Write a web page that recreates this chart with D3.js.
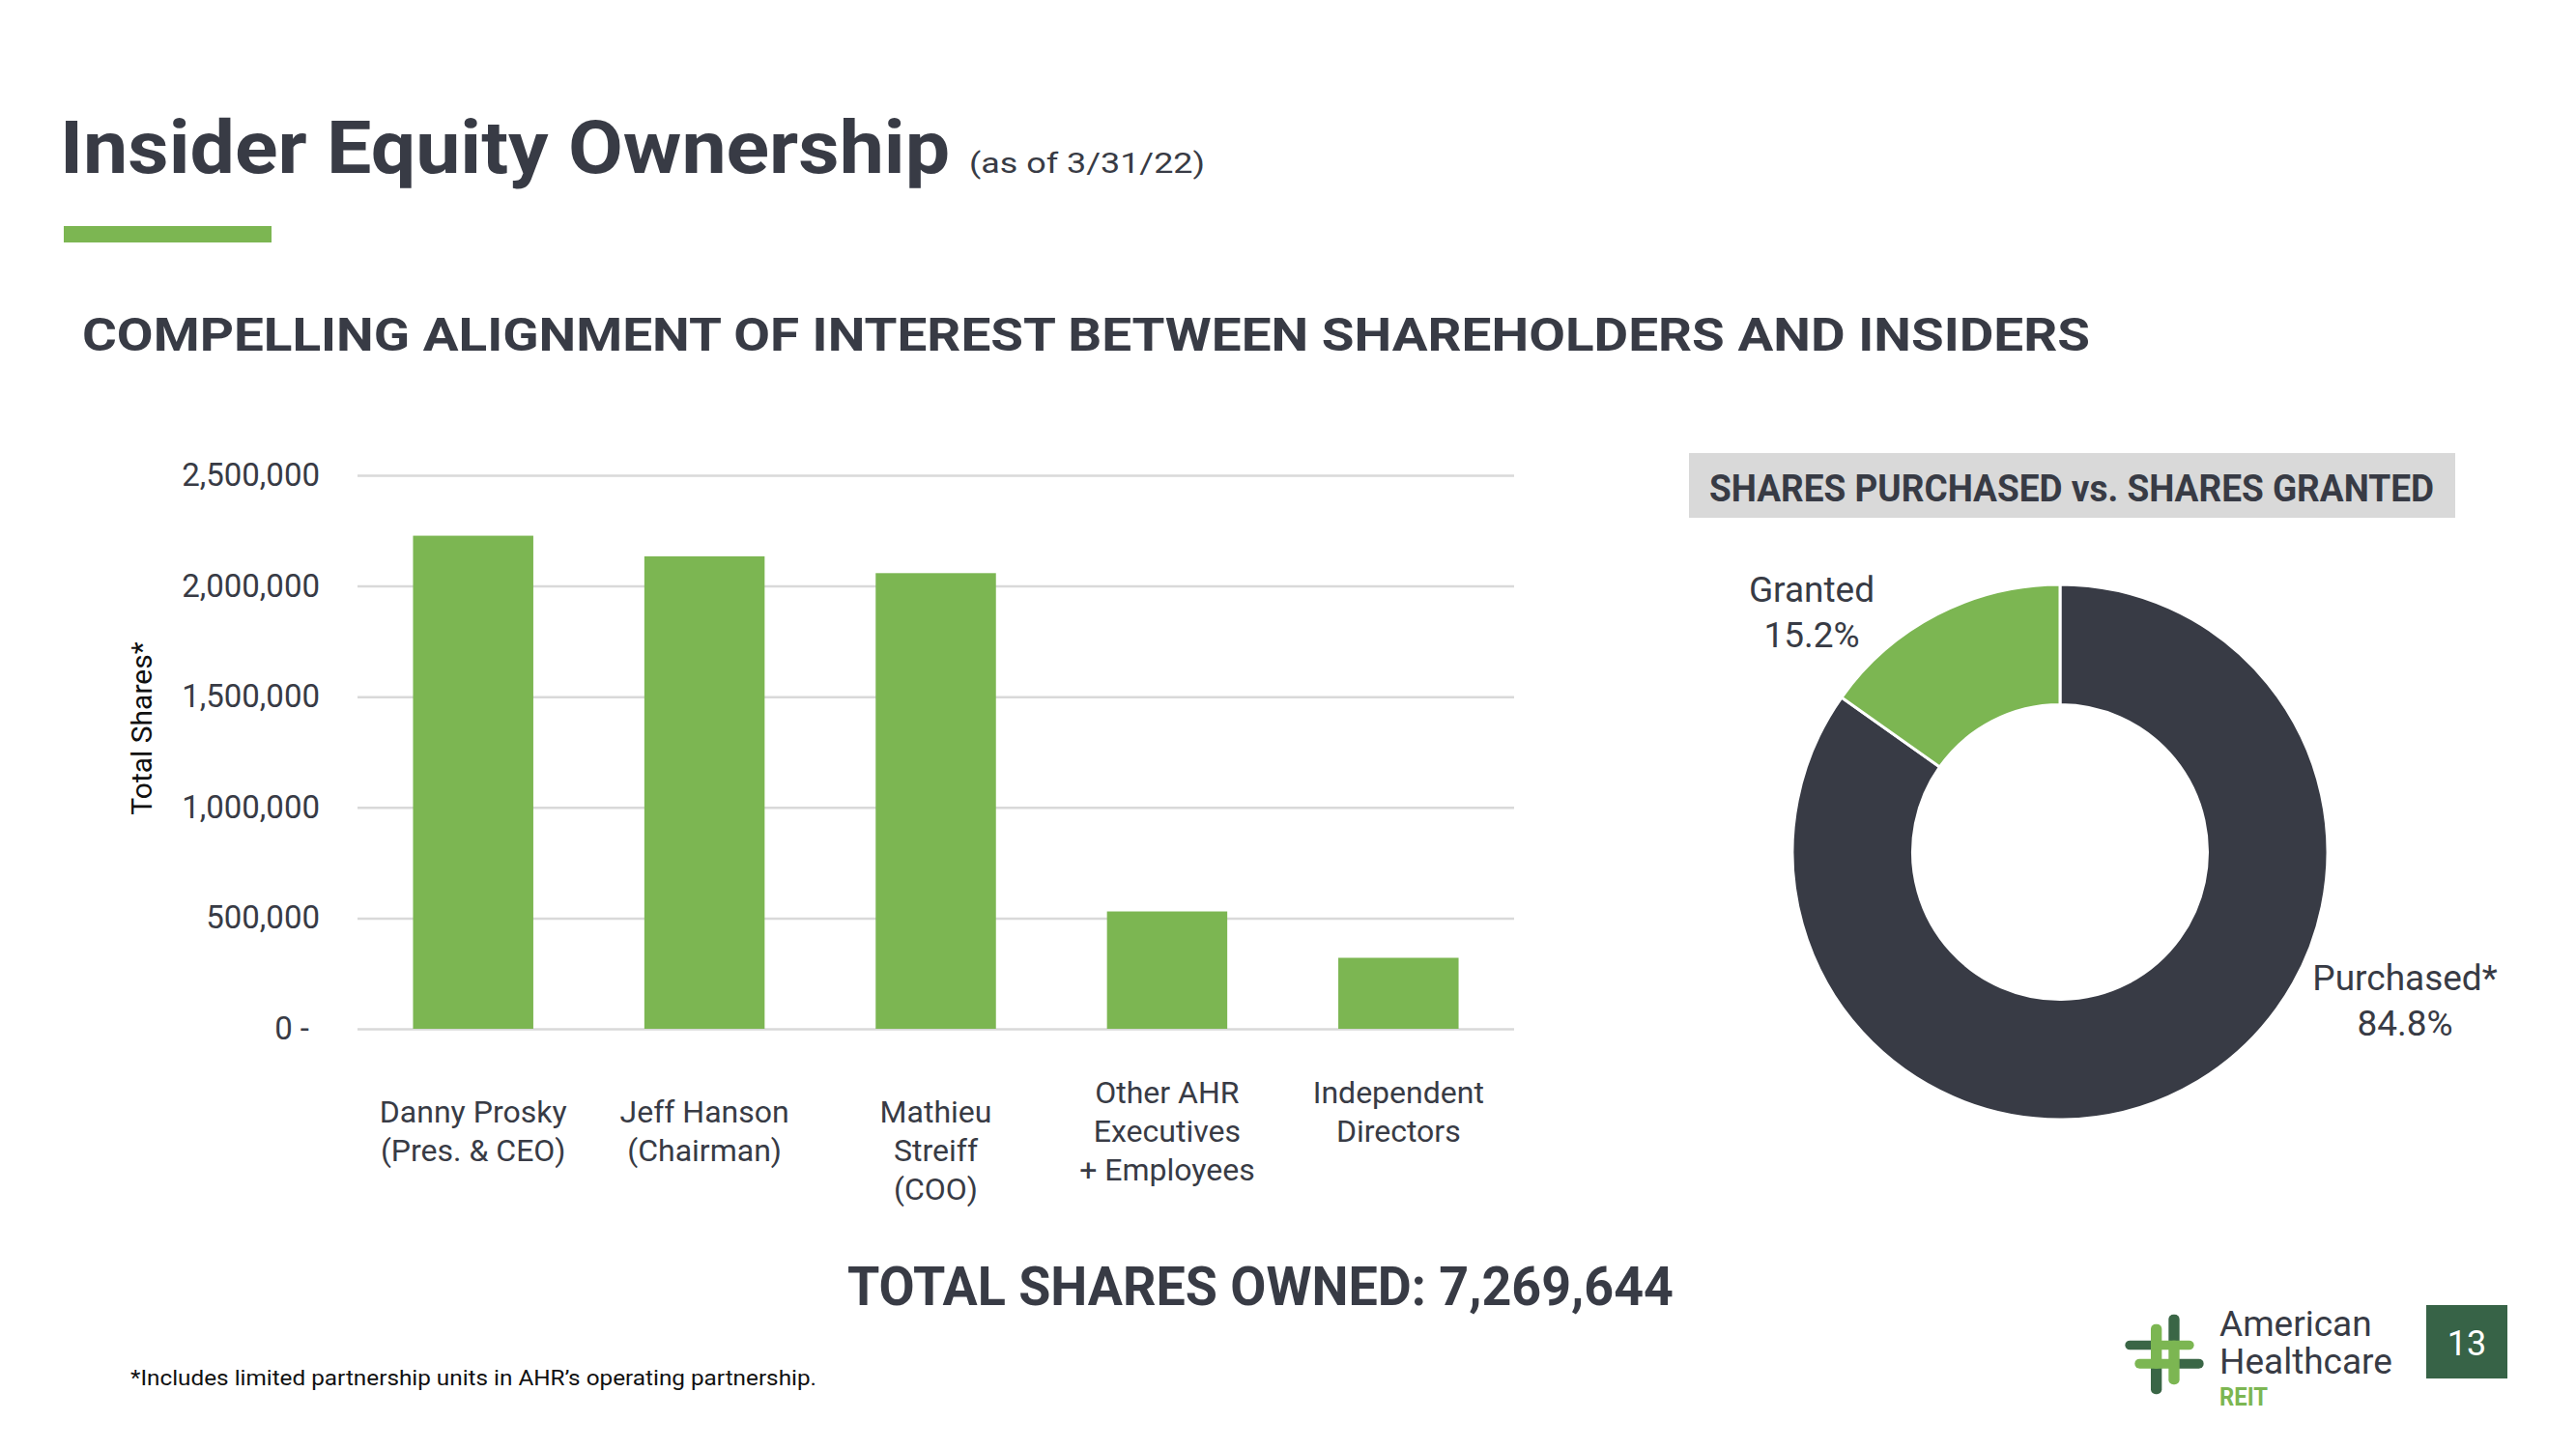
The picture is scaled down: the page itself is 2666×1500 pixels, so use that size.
<!DOCTYPE html>
<html>
<head>
<meta charset="utf-8">
<script src="https://cdn.jsdelivr.net/npm/d3@7"></script>
<style>
  body { margin: 0; background: #fff; }
  svg { display: block; }
  text { font-family: Roboto, "Noto Sans", sans-serif; }
</style>
</head>
<body>
<div id="visual"></div>
<script>
// chart data
const categories = [
    ["Danny Prosky", "(Pres. & CEO)"],
    ["Jeff Hanson", "(Chairman)"],
    ["Mathieu", "Streiff", "(COO)"],
    ["Other AHR", "Executives", "+ Employees"],
    ["Independent", "Directors"]
];
const shareValues = [2227000, 2134000, 2058000, 530000, 320644];
const yTicks = [0, 500000, 1000000, 1500000, 2000000, 2500000];

const donutLabels = ["Purchased*", "Granted"];
const donutValues = [84.8, 15.2];

const ink = "#383b45";
const green = "#7cb652";

const svg = d3.select("#visual")
    .append("svg")
    .attr("width", 2666)
    .attr("height", 1500);

svg.append("rect").attr("width", 2666).attr("height", 1500).attr("fill", "#fff");

// squeeze a text to a given width (the original font is narrower)
function fit(sel, w) {
    sel.attr("textLength", w).attr("lengthAdjust", "spacingAndGlyphs");
    return sel;
}

// header
fit(svg.append("text")
    .attr("x", 62).attr("y", 179)
    .attr("font-size", 76).attr("font-weight", 700)
    .attr("fill", ink)
    .text("Insider Equity Ownership"), 921);

fit(svg.append("text")
    .attr("x", 1003).attr("y", 179)
    .attr("font-size", 30)
    .attr("fill", ink)
    .text("(as of 3/31/22)"), 244);

svg.append("rect")
    .attr("x", 66).attr("y", 234)
    .attr("width", 215).attr("height", 17)
    .attr("fill", green);

fit(svg.append("text")
    .attr("x", 85).attr("y", 363)
    .attr("font-size", 49).attr("font-weight", 700)
    .attr("fill", ink)
    .text("COMPELLING ALIGNMENT OF INTEREST BETWEEN SHAREHOLDERS AND INSIDERS"), 2078);

// bar chart
const plotLeft = 370, plotRight = 1567;

const x = d3.scaleBand()
    .domain(d3.range(categories.length))
    .range([plotLeft, plotRight])
    .paddingInner(0.48)
    .paddingOuter(0.24);

const y = d3.scaleLinear()
    .domain([0, 2500000])
    .range([1065, 492]);

// gridlines
svg.append("g")
    .attr("transform", "translate(" + plotLeft + ",0)")
    .call(d3.axisLeft(y).tickValues(yTicks).tickSize(-(plotRight - plotLeft)).tickFormat(""))
    .call(g => g.select(".domain").remove())
    .call(g => g.selectAll("line").attr("stroke", "#d9d9d9").attr("stroke-width", 2.5));

// tick labels
const yAxis = svg.append("g")
    .attr("transform", "translate(331,0)")
    .call(d3.axisLeft(y).tickValues(yTicks).tickSize(0).tickPadding(0)
        .tickFormat(d => d === 0 ? "0 -" : d3.format(",")(d)));
yAxis.select(".domain").remove();
yAxis.selectAll("text")
    .attr("font-family", "Roboto, sans-serif")
    .attr("font-size", 33)
    .attr("fill", ink)
    .attr("dx", d => d === 0 ? -11 : 0);

svg.append("text")
    .attr("transform", "translate(157,754) rotate(-90)")
    .attr("text-anchor", "middle")
    .attr("font-family", "'Liberation Sans', Arial, sans-serif")
    .attr("font-size", 30)
    .attr("fill", "#111")
    .text("Total Shares*");

svg.selectAll(".bar")
    .data(shareValues)
    .enter()
    .append("rect")
    .attr("class", "bar")
    .attr("x", (d, i) => x(i))
    .attr("y", d => y(d))
    .attr("width", x.bandwidth())
    .attr("height", d => y(0) - y(d))
    .attr("fill", green);

// category labels (the last two sit a little higher in the original)
const catText = svg.selectAll(".cat")
    .data(categories)
    .enter()
    .append("text")
    .attr("class", "cat")
    .attr("text-anchor", "middle")
    .attr("font-size", 32)
    .attr("fill", ink)
    .attr("transform", (d, i) => "translate(" + (x(i) + x.bandwidth() / 2) + "," + (i >= 3 ? 1142 : 1162) + ")");

catText.selectAll("tspan")
    .data(d => d)
    .enter()
    .append("tspan")
    .attr("x", 0)
    .attr("y", (d, j) => j * 40)
    .text(d => d);

// total
fit(svg.append("text")
    .attr("x", 877).attr("y", 1351)
    .attr("font-size", 56).attr("font-weight", 700)
    .attr("fill", ink)
    .text("TOTAL SHARES OWNED: " + d3.format(",")(d3.sum(shareValues))), 855);

// donut
svg.append("rect")
    .attr("x", 1748).attr("y", 469)
    .attr("width", 793).attr("height", 67)
    .attr("fill", "#d9d9d9");

fit(svg.append("text")
    .attr("x", 2144).attr("y", 519)
    .attr("text-anchor", "middle")
    .attr("font-size", 39).attr("font-weight", 700)
    .attr("fill", ink)
    .text("SHARES PURCHASED vs. SHARES GRANTED"), 750);

const donut = svg.append("g").attr("transform", "translate(2132,882)");

const pie = d3.pie().sort(null).value(d => d);
const arc = d3.arc().innerRadius(152.5).outerRadius(277);
const donutColor = d3.scaleOrdinal().domain(donutLabels).range([ink, green]);

donut.selectAll("path")
    .data(pie(donutValues))
    .enter()
    .append("path")
    .attr("d", arc)
    .attr("fill", (d, i) => donutColor(donutLabels[i]))
    .attr("stroke", "#fff")
    .attr("stroke-width", 3);

// label spots, relative to the donut centre
const labelSpots = [[357, 143], [-257, -259]];
donut.selectAll(".dlabel")
    .data(donutValues)
    .enter()
    .append("text")
    .attr("class", "dlabel")
    .attr("text-anchor", "middle")
    .attr("font-size", 37)
    .attr("fill", ink)
    .attr("transform", (d, i) => "translate(" + labelSpots[i][0] + "," + labelSpots[i][1] + ")")
    .each(function (d, i) {
        const t = d3.select(this);
        t.append("tspan").attr("x", 0).attr("y", 0).text(donutLabels[i]);
        t.append("tspan").attr("x", 0).attr("y", 47).text(d.toFixed(1) + "%");
    });

// footnote
fit(svg.append("text")
    .attr("x", 135).attr("y", 1434)
    .attr("font-size", 22)
    .attr("fill", "#111")
    .text("*Includes limited partnership units in AHR\u2019s operating partnership."), 710);

// logo
const logo = svg.append("g").attr("transform", "translate(2150,1320) scale(0.3333)");
const darkGreen = "#3a6646";
const bars = [
    [283, 122, 34, 110, darkGreen],
    [148, 203, 100, 29, darkGreen],
    [228, 262, 34, 108, darkGreen],
    [290, 260, 102, 30, darkGreen],
    [228, 152, 34, 138, green],
    [228, 203, 134, 29, green],
    [283, 203, 34, 137, green],
    [178, 260, 122, 30, green]
];
logo.selectAll("rect")
    .data(bars)
    .enter()
    .append("rect")
    .attr("x", d => d[0]).attr("y", d => d[1])
    .attr("width", d => d[2]).attr("height", d => d[3])
    .attr("rx", 15).attr("ry", 15)
    .attr("fill", d => d[4]);

svg.append("text")
    .attr("x", 2297).attr("y", 1383)
    .attr("font-size", 37).attr("fill", ink)
    .text("American");
svg.append("text")
    .attr("x", 2297).attr("y", 1422)
    .attr("font-size", 37).attr("fill", ink)
    .text("Healthcare");
fit(svg.append("text")
    .attr("x", 2297).attr("y", 1455)
    .attr("font-size", 25).attr("font-weight", 700).attr("fill", green)
    .text("REIT"), 50);

svg.append("rect")
    .attr("x", 2511).attr("y", 1351)
    .attr("width", 84).attr("height", 76)
    .attr("fill", "#376347");
svg.append("text")
    .attr("x", 2553).attr("y", 1403)
    .attr("text-anchor", "middle")
    .attr("font-family", "'Open Sans', sans-serif")
    .attr("font-size", 36).attr("fill", "#fff")
    .text("13");
</script>
</body>
</html>
